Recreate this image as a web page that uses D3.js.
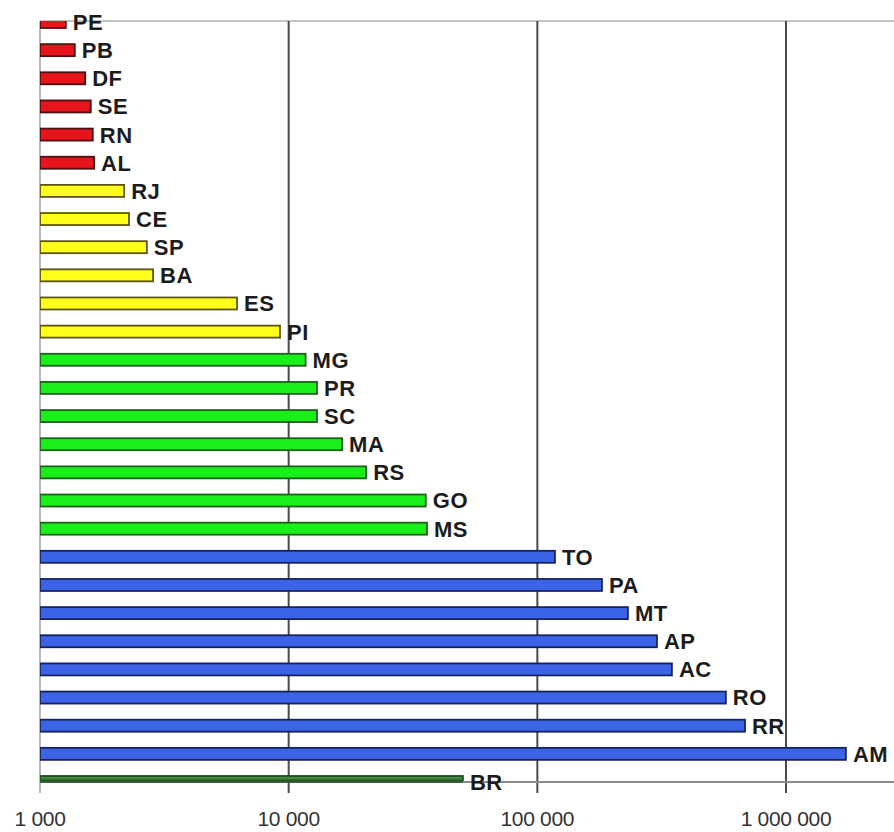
<!DOCTYPE html>
<html>
<head>
<meta charset="utf-8">
<script src="https://cdn.jsdelivr.net/npm/d3@7"></script>
<style>
  html, body { margin: 0; padding: 0; background: #fff; }
  svg { display: block; }
</style>
</head>
<body>
<svg id="chart" width="894" height="832"></svg>
<script>
// States, top to bottom, with their values and colour groups
const states = ["PE","PB","DF","SE","RN","AL","RJ","CE","SP","BA","ES","PI",
  "MG","PR","SC","MA","RS","GO","MS","TO","PA","MT","AP","AC","RO","RR","AM","BR"];
const values = [1270, 1380, 1520, 1600, 1630, 1650, 2180, 2280, 2690, 2850, 6200, 9230,
  11700, 13000, 13000, 16400, 20500, 35600, 36000, 117700, 181900, 231300, 302700, 347700,
  573000, 684000, 1741000, 50200];
const groups = ["r","r","r","r","r","r","y","y","y","y","y","y",
  "g","g","g","g","g","g","g","b","b","b","b","b","b","b","b","br"];
const tickValues = [1000, 10000, 100000, 1000000];
const tickLabels = ["1 000", "10 000", "100 000", "1 000 000"];

const fills   = { r: "#e8141c", y: "#ffff1a", g: "#19f019", b: "#3a63e6", br: "#3f8a3f" };
const strokes = { r: "#4e1010", y: "#5e5410", g: "#235e23", b: "#17235e", br: "#1f4a1f" };

const data = states.map((s, i) => ({ state: s, value: values[i], group: groups[i] }));

const svg = d3.select("#chart");
const mLeft = 40, mRight = 894, mTop = 21, mBottom = 782;

const x = d3.scaleLog().domain([1000, 1000000]).range([mLeft, 786]);
const y = d3.scalePoint().domain(states).range([mTop + 1, mBottom]);
const barH = 12;

svg.append("defs").append("clipPath").attr("id", "plot")
  .append("rect").attr("x", mLeft).attr("y", mTop).attr("width", mRight - mLeft).attr("height", mBottom - mTop + 1);

// top border
svg.append("line").attr("x1", mLeft).attr("x2", mRight).attr("y1", mTop).attr("y2", mTop)
  .attr("stroke", "#c4c4c4").attr("stroke-width", 2);

// vertical gridlines (with tick extension below the axis)
svg.append("g").selectAll("line").data(tickValues.slice(1)).join("line")
  .attr("x1", d => x(d)).attr("x2", d => x(d))
  .attr("y1", mTop).attr("y2", mBottom + 11)
  .attr("stroke", "#4a4a4a").attr("stroke-width", 2);

// left axis
svg.append("line").attr("x1", mLeft).attr("x2", mLeft).attr("y1", mTop).attr("y2", mBottom + 11)
  .attr("stroke", "#8a8a9a").attr("stroke-width", 1.2);

// bars
svg.append("g").attr("clip-path", "url(#plot)")
  .selectAll("rect").data(data).join("rect")
  .attr("x", x(1000))
  .attr("y", d => y(d.state) - barH / 2)
  .attr("width", d => x(d.value) - x(1000))
  .attr("height", barH)
  .attr("fill", d => fills[d.group])
  .attr("stroke", d => strokes[d.group])
  .attr("stroke-width", 1.8);

// bottom axis line
svg.append("line").attr("x1", mLeft).attr("x2", mRight).attr("y1", mBottom).attr("y2", mBottom)
  .attr("stroke", "#8c8c8c").attr("stroke-width", 2);

// BR bar edge drawn over the axis line
svg.append("line")
  .attr("x1", x(1000)).attr("x2", x(data[data.length - 1].value))
  .attr("y1", mBottom - 1).attr("y2", mBottom - 1)
  .attr("stroke", "#2a5a2a").attr("stroke-width", 3.5);

// state labels
svg.append("g").selectAll("text").data(data).join("text")
  .attr("x", d => x(d.value) + 7)
  .attr("y", d => y(d.state))
  .attr("dy", "0.36em")
  .attr("font-family", "'Liberation Sans', Arial, sans-serif")
  .attr("font-weight", "bold")
  .attr("font-size", 22)
  .attr("letter-spacing", 0.5)
  .attr("fill", "#1c1c1c")
  .text(d => d.state);

// x tick labels
svg.append("g").selectAll("text").data(tickValues).join("text")
  .attr("x", d => x(d))
  .attr("y", 826)
  .attr("text-anchor", "middle")
  .attr("font-family", "'Liberation Sans', Arial, sans-serif")
  .attr("font-size", 21)
  .attr("letter-spacing", -0.3)
  .attr("fill", "#333")
  .text((d, i) => tickLabels[i]);
</script>
</body>
</html>
